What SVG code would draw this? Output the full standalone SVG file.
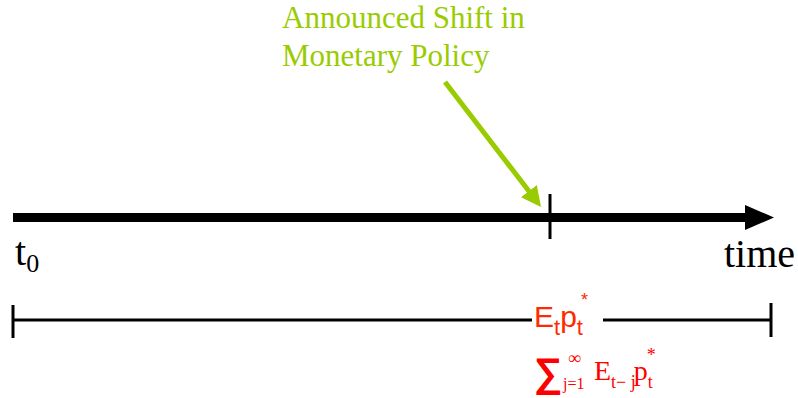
<svg xmlns="http://www.w3.org/2000/svg" width="798" height="398" viewBox="0 0 798 398">
<style>
.serif{font-family:"Liberation Serif","Times New Roman",serif}
.sans{font-family:"Liberation Sans",Arial,sans-serif}
.green{fill:#99cc00}
.red{fill:#ff2a00}
.sred{fill:#ff0000}
</style>
<defs>
<marker id="garrow" markerWidth="4" markerHeight="4" refX="3" refY="2" orient="auto" markerUnits="strokeWidth">
<path d="M0,0 L4,2 L0,4 z" fill="#99cc00"/>
</marker>
</defs>
<rect width="798" height="398" fill="#fff"/>
<g id="connectors">
<line x1="13" y1="217.5" x2="748" y2="217.5" stroke="#000" stroke-width="9"/>
<path d="M745,205 L774,217.5 L745,230 z" fill="#000"/>
<line x1="550" y1="194" x2="550" y2="239" stroke="#000" stroke-width="3"/>
<line x1="445" y1="82" x2="538" y2="203" stroke="#99cc00" stroke-width="5" marker-end="url(#garrow)"/>
<line x1="13" y1="320" x2="532" y2="320" stroke="#000" stroke-width="3"/>
<line x1="603" y1="320" x2="771" y2="320" stroke="#000" stroke-width="3"/>
<line x1="13" y1="305" x2="13" y2="338" stroke="#000" stroke-width="3"/>
<line x1="771" y1="303" x2="771" y2="337" stroke="#000" stroke-width="3"/>
</g>
<g id="announce">
<text class="serif green" x="282" y="28" font-size="31">Announced Shift in</text>
<text class="serif green" x="282" y="66" font-size="31">Monetary Policy</text>
</g>
<g id="t0">
<text class="serif" x="15" y="265" font-size="40">t<tspan font-size="26" dy="7">0</tspan></text>
</g>
<g id="time">
<text class="serif" x="724" y="267" font-size="40">time</text>
</g>
<g id="etpt">
<text class="sans red" x="534" y="327" font-size="30">E<tspan font-size="22" dy="8">t</tspan><tspan dy="-8">p</tspan><tspan font-size="22" dy="8">t</tspan><tspan font-size="18" dx="-2" dy="-29">*</tspan></text>
</g>
<g id="sum">
<text class="sans sred" x="534" y="386" font-size="40" font-weight="bold">∑</text>
<text class="serif sred" x="563" y="389" font-size="16">j=1</text>
<text class="serif sred" x="568" y="364" font-size="18">∞</text>
<text class="serif sred" x="594" y="380" font-size="28">E<tspan font-size="18" dy="8">t− j</tspan><tspan dx="-2" dy="-8">p</tspan><tspan font-size="18" dy="8">t</tspan><tspan font-size="18" dx="-6" dy="-27">*</tspan></text>
</g>
</svg>
